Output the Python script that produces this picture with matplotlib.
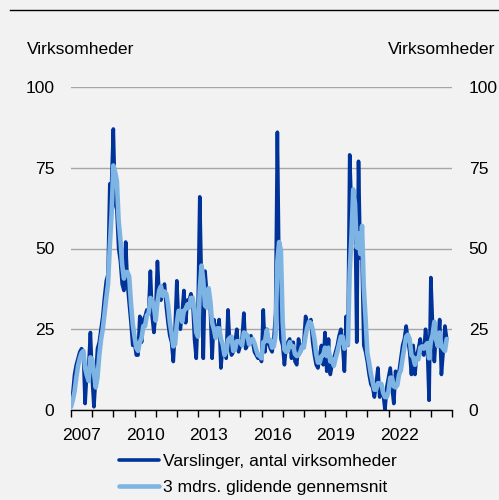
import matplotlib
matplotlib.use('Agg')
import matplotlib.pyplot as plt
from matplotlib.lines import Line2D
import numpy as np

plt.rcParams['font.family'] = ['Liberation Sans', 'DejaVu Sans']

# Monthly data, Jan 2007 onwards
start_year = 2007
varslinger = [
    1, 5, 11, 14, 16, 18, 19, 18, 2, 12, 13, 24,          # 2007
    10, 1, 10, 19, 21, 25, 29, 35, 40, 42, 70, 70,        # 2008
    87, 64, 62, 50, 46, 39, 37, 52, 39, 33, 27, 20,       # 2009
    21, 17, 17, 29, 21, 28, 29, 31, 30, 43, 29, 24,       # 2010
    30, 46, 35, 34, 37, 39, 32, 27, 23, 21, 15, 25,       # 2011
    40, 27, 25, 30, 37, 27, 34, 34, 36, 34, 22, 16,       # 2012
    30, 66, 38, 16, 43, 36, 34, 31, 16, 28, 23, 25,       # 2013
    28, 13, 20, 18, 16, 31, 20, 17, 18, 21, 25, 18,       # 2014
    20, 22, 30, 19, 20, 22, 23, 21, 18, 17, 16, 17,       # 2015
    15, 31, 18, 25, 21, 19, 18, 22, 30, 86, 40, 22,       # 2016
    20, 14, 20, 21, 22, 16, 21, 15, 14, 22, 18, 19,       # 2017
    21, 29, 27, 26, 28, 21, 17, 14, 13, 17, 20, 14,       # 2018
    24, 12, 22, 11, 14, 16, 18, 20, 23, 25, 20, 12,       # 2019
    29, 20, 79, 62, 64, 66, 21, 77, 47, 47, 20, 18,       # 2020
    15, 11, 8, 7, 4, 8, 13, 4, 7, 5, 0, 7,                # 2021
    10, 13, 7, 2, 12, 9, 12, 16, 20, 22, 26, 22,          # 2022
    18, 11, 20, 11, 17, 19, 22, 18, 17, 25, 20, 3,        # 2023
    41, 26, 15, 24, 20, 28, 11, 18, 26, 22,               # 2024
]
glidende = [
    1, 3, 5.7, 10, 13.7, 16, 17.7, 18.3, 13, 10.7, 9, 16.3,
    15.7, 11.7, 7, 10, 16.7, 21.7, 25, 29.7, 34.7, 39, 50.7, 60.7,
    75.7, 73.7, 71, 58.7, 52.7, 45, 40.7, 42.7, 42.7, 41.3, 33, 26.7,
    22.7, 19.3, 18.3, 21, 22.3, 26, 26, 29.3, 30, 34.7, 34, 32,
    27.7, 33.3, 37, 38.3, 35.3, 36.7, 36, 32.7, 27.3, 23.7, 19.7, 20.3,
    26.7, 30.7, 30.7, 27.3, 30.7, 31.3, 32.7, 31.7, 34.7, 34.7, 30.7, 24,
    22.7, 37.3, 44.7, 40, 32.3, 31.7, 37.7, 33.7, 27, 25, 22.3, 25.3,
    25.3, 22, 20.3, 17, 18, 21.7, 22.3, 22.7, 18.3, 18.7, 21.3, 21.3,
    21, 20, 24, 23.7, 23, 20.3, 21.7, 22, 20.7, 18.7, 17, 16.7,
    16, 21, 21.3, 24.7, 21.3, 21.7, 19.3, 19.7, 23.3, 46, 52, 49.3,
    27.3, 18.7, 18, 18.3, 21, 19.7, 19.7, 17.3, 16.7, 17, 18, 19.7,
    19.3, 23, 25.7, 27.3, 27, 25, 22, 17.3, 14.7, 14.7, 16.7, 17,
    19.3, 16.7, 19.3, 15, 15.7, 13.7, 16, 18, 20.3, 22.7, 22.7, 19,
    20.3, 20.3, 42.7, 53.7, 68.3, 64, 50.3, 54.7, 48.3, 57, 38, 28.3,
    17.7, 14.7, 11.3, 8.7, 6.3, 6.3, 8.3, 8.3, 8, 5.3, 4, 4,
    5.7, 10, 10, 7.3, 7, 7.7, 11, 12.3, 16, 19.3, 22.7, 23.3,
    22, 17, 16.3, 14, 16, 15.7, 19.3, 19.7, 19, 20, 20.7, 16,
    21.3, 23.3, 27.3, 21.7, 19.7, 24, 19.7, 19, 18.3, 22,
]
year_labels = ['2007', '2010', '2013', '2016', '2019', '2022']
y_ticks = [0, 25, 50, 75, 100]
series_names = ['Varslinger, antal virksomheder', '3 mdrs. glidende gennemsnit']
unit = 'Virksomheder'

DARK = '#003399'
LIGHT = '#7DB4E4'
BG = '#F2F2F2'
FS = 12.6

fig = plt.figure(figsize=(4.99, 5.0), dpi=100, facecolor=BG)
ax = fig.add_axes([71 / 499, 1 - 410 / 500, 381 / 499, 323 / 500])
ax.set_facecolor(BG)

x = np.arange(len(varslinger))
xm = np.arange(len(glidende))
l1, = ax.plot(x, varslinger, color=DARK, lw=2.6, solid_joinstyle='round',
              solid_capstyle='round', zorder=3)
l2, = ax.plot(xm, glidende, color=LIGHT, lw=3.3, solid_joinstyle='round',
              solid_capstyle='round', zorder=4)

n_years = 18
ax.set_xlim(0, 12 * n_years)
ax.set_ylim(0, 100)
for s in ['top', 'left', 'right']:
    ax.spines[s].set_visible(False)
ax.spines['bottom'].set_color('black')
ax.spines['bottom'].set_linewidth(1.0)
ax.spines['bottom'].set_zorder(5)

ax.set_yticks(y_ticks)
ax.set_yticklabels([str(v) for v in y_ticks])
ax.yaxis.grid(True, color='#A6A6A6', lw=1.0)
ax.set_axisbelow(True)
ax.tick_params(axis='y', length=0, labelleft=True, labelright=True,
               labelsize=FS, pad=12)

ax.set_xticks(np.arange(0, 12 * n_years + 1, 12))
ax.set_xticklabels([])
ax.tick_params(axis='x', which='major', direction='out', length=5, width=1,
               color='black')
label_pos = [12 * (int(y) - start_year) + 6 for y in year_labels]
ax.set_xticks(label_pos, minor=True)
ax.set_xticklabels(year_labels, minor=True)
ax.tick_params(axis='x', which='minor', length=0, labelsize=FS, pad=13)

fig.text(27 / 499, 1 - 49 / 500, unit, ha='left', va='center', fontsize=FS)
fig.text(495 / 499, 1 - 49 / 500, unit, ha='right', va='center', fontsize=FS)

fig.add_artist(Line2D([10 / 499, 1], [1 - 10 / 500, 1 - 10 / 500],
                      color='black', lw=1.0, transform=fig.transFigure))

fig.legend([l1, l2], series_names, loc='upper left',
           bbox_to_anchor=(119 / 499, 1 - 454 / 500), frameon=False,
           fontsize=FS, handlelength=2.3, handletextpad=0.2,
           labelspacing=0.62, borderpad=0, borderaxespad=0)

fig.savefig('out.png', dpi=100, facecolor=BG)
